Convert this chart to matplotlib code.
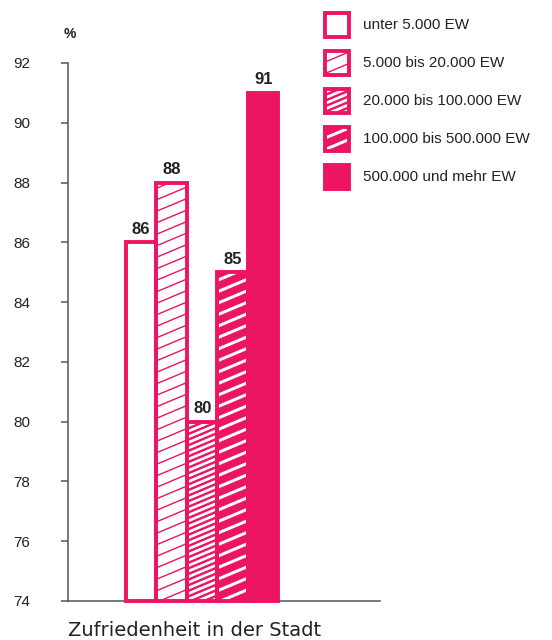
import matplotlib
matplotlib.use("Agg")
import matplotlib.pyplot as plt
import numpy as np
from matplotlib.patches import Rectangle
from matplotlib.collections import LineCollection

plt.rcParams['font.family'] = ['Liberation Sans', 'DejaVu Sans']

# Zufriedenheit in der Stadt, nach Gemeindegröße
groups = ["unter 5.000 EW", "5.000 bis 20.000 EW", "20.000 bis 100.000 EW",
          "100.000 bis 500.000 EW", "500.000 und mehr EW"]
shares = [86, 88, 80, 85, 91]
y_ticks = [74, 76, 78, 80, 82, 84, 86, 88, 90, 92]
y_unit = "%"
title = "Zufriedenheit in der Stadt"

PINK = '#EC1562'
DARK = '#222222'
AXIS = '#555555'

# face colour, hatch colour, hatch line width (px), gap between lines (px)
styles = [
    ('white', None, 0, 0),
    ('white', PINK, 1.4, 11.5),
    ('white', PINK, 2.4, 5.6),
    (PINK, 'white', 3.0, 11.5),
    (PINK, None, 0, 0),
]
SLOPE = 0.42
EDGE_LW = 2.8


def draw_hatch(ax, patch, x0, x1, y0, y1, color, lw_px, gap_px):
    xl, yl = ax.get_xlim(), ax.get_ylim()
    sx = ax.bbox.width / (xl[1] - xl[0])
    sy = ax.bbox.height / (yl[1] - yl[0])
    k = SLOPE * sx / sy
    step = gap_px / sy
    segs = []
    b = y0 - k * (x1 - x0)
    while b < y1:
        segs.append([(x0, b), (x1, b + k * (x1 - x0))])
        b += step
    lc = LineCollection(segs, colors=color, linewidths=lw_px * 0.72, zorder=2.5)
    ax.add_collection(lc)
    lc.set_clip_path(patch)


fig = plt.figure(figsize=(5.52, 6.4), dpi=100)
ax = fig.add_axes([68 / 552, 1 - 601 / 640, 312 / 552, 538 / 640])
ax.set_xlim(-2.4, 7.83)
ax.set_ylim(74, 92)

x = np.arange(len(shares))
heights = np.array(shares) - 74
faces = [s[0] for s in styles]
fills = ax.bar(x, heights, bottom=74, width=1, color=faces, edgecolor='none',
               zorder=2, clip_on=False)
for rect, (face, hc, lw, gap) in zip(fills, styles):
    if hc is not None:
        x0 = rect.get_x()
        draw_hatch(ax, rect, x0, x0 + rect.get_width(), 74, 74 + rect.get_height(),
                   hc, lw, gap)
ax.bar(x, heights, bottom=74, width=1, fill=False, edgecolor=PINK,
       linewidth=EDGE_LW, zorder=3, clip_on=False)

for xi, v in zip(x, shares):
    ax.annotate(str(v), (xi, v), xytext=(0, 4), textcoords='offset points',
                ha='center', va='bottom', fontsize=12, fontweight='bold',
                color=DARK)

for side in ['top', 'right']:
    ax.spines[side].set_visible(False)
for side in ['left', 'bottom']:
    ax.spines[side].set_color(AXIS)
    ax.spines[side].set_linewidth(1.1)
ax.set_xticks([])
ax.set_yticks(y_ticks)
ax.tick_params(axis='y', length=5, width=1.1, color=AXIS, pad=34.5,
               labelsize=11, labelcolor=DARK)
for lab in ax.get_yticklabels():
    lab.set_horizontalalignment('left')

fig.text(70 / 552, 1 - 34 / 640, y_unit, fontsize=10, fontweight='bold',
         color=DARK, ha='center', va='center')
fig.text(68 / 552, 1 - 636 / 640, title, fontsize=14, color=DARK,
         family='DejaVu Sans', ha='left', va='baseline')

# legend: small squares drawn with the same fills and hatches
for i, (name, (face, hc, lw, gap)) in enumerate(zip(groups, styles)):
    cy = 25 + i * 38
    lax = fig.add_axes([325 / 552, 1 - (cy + 12) / 640, 24 / 552, 24 / 640])
    lax.set_xlim(0, 1)
    lax.set_ylim(0, 1)
    lax.axis('off')
    sq = Rectangle((0, 0), 1, 1, facecolor=face, edgecolor='none', zorder=2)
    lax.add_patch(sq)
    if hc is not None:
        draw_hatch(lax, sq, 0, 1, 0, 1, hc, lw, gap)
    lax.add_patch(Rectangle((0, 0), 1, 1, fill=False, edgecolor=PINK,
                            linewidth=EDGE_LW, zorder=3, clip_on=False))
    fig.text(363 / 552, 1 - cy / 640, name, fontsize=11, color=DARK,
             ha='left', va='center')

fig.savefig('out.png', dpi=100)
